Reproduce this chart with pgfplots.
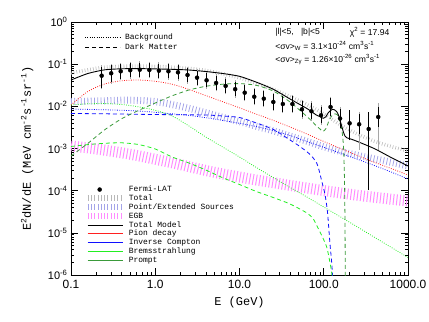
\documentclass[border=0pt]{standalone}
\usepackage{fontspec}
\setmainfont{Liberation Sans}
\newfontfamily\monof{Liberation Mono}
\usepackage{pgfplots}
\pgfplotsset{compat=1.18}
\usepackage{pgfplotstable}

\definecolor{pgray}{HTML}{B8B8B8}
\definecolor{pslate}{HTML}{A4A4E8}
\definecolor{pmag}{HTML}{FF8CFF}
\definecolor{pred}{HTML}{FF2020}
\definecolor{pblue}{HTML}{1010FF}
\definecolor{pgreen}{HTML}{22EE22}
\definecolor{pdkgreen}{HTML}{3A9A3A}

% background components: total band, pion, IC, point/extended band, EGB band, bremsstrahlung
\pgfplotstableread{
E       total    pion      ic        ps        egb        brems
0.1     0.0617   0.01076   0.00865   0.01302   0.001147   0.01076
0.1585  0.0735   0.0225    0.00846   0.01324   0.001034   0.01149
0.2512  0.0847   0.0339    0.00828   0.01353   0.000912   0.01161
0.3981  0.0890   0.0403    0.00806   0.01398   0.000791   0.01106
0.631   0.0900   0.0421    0.00775   0.01383   0.000672   0.00975
1       0.0886   0.0393    0.00722   0.01296   0.000555   0.00806
1.585   0.0847   0.0335    0.00665   0.01106   0.000458   0.0059
2.512   0.0794   0.0251    0.0061    0.00898   0.000372   0.00342
3.981   0.0712   0.01798   0.00538   0.00707   0.000301   0.001875
6.31    0.0591   0.01288   0.00464   0.0055    0.000249   0.001086
10      0.0475   0.00923   0.00396   0.00435   0.000211   0.000629
15.85   0.0350   0.00651   0.00331   0.00336   0.000179   0.000355
25.12   0.0252   0.00467   0.00266   0.00262   0.000155   0.000205
39.81   0.0171   0.00324   0.00203   0.00198   0.000133   0.000119
63.1    0.01106  0.00221   0.001466  0.001483  0.0001157  0.0000708
100     0.00665  0.001466  0.001068  0.001098  0.0001005  0.000041
158.5   0.00361  0.001     0.00077   0.000849  0.0000881  0.0000238
251.2   0.00221  0.000683  0.000555  0.00069   0.0000777  0.0000138
398.1   0.00149  0.000471  0.000396  0.00057   0.0000697  0.00000788
631     0.001116 0.000336  0.000277  0.000471  0.0000628  0.00000454
1000    0.000873 0.000235  0.000189  0.000385  0.0000569  0.0000026
}\bgtable

\begin{document}
\begin{tikzpicture}
\begin{axis}[
  scale only axis, width=337bp, height=253bp,
  xmode=log, ymode=log, xmin=0.1, xmax=1000, ymin=1e-6, ymax=1,
  xtick={0.1,1,10,100,1000}, xticklabels={0.1,1.0,10.0,100.0,1000.0},
  ytick={1e-6,1e-5,1e-4,1e-3,1e-2,1e-1,1},
  yticklabels={10\textsuperscript{-6},10\textsuperscript{-5},10\textsuperscript{-4},10\textsuperscript{-3},10\textsuperscript{-2},10\textsuperscript{-1},10\textsuperscript{0}},
  tick align=inside, major tick length=7bp, minor tick length=3.5bp,
  every tick/.style={black, line width=0.6bp},
  axis line style={line width=0.8bp},
  xticklabel style={font=\fontsize{12}{12}\selectfont, yshift=-2bp},
  yticklabel style={font=\fontsize{11}{11}\selectfont},
  xlabel={E (GeV)},
  ylabel={E\textsuperscript{2}dN/dE (MeV cm\textsuperscript{-2}s\textsuperscript{-1}sr\textsuperscript{-1})},
  label style={font=\monof\fontsize{12}{12}\selectfont},
  xlabel style={at={(axis description cs:0.5,-0.11)}, anchor=center},
  ylabel style={at={(axis description cs:-0.13,0.5)}, anchor=center},
  legend cell align=left,
  legend style={draw=none, fill=none, at={(0.04,0.356)}, anchor=north west,
    font=\monof\fontsize{8}{8}\selectfont, inner sep=0pt, row sep=0pt, column sep=2.5bp,
    nodes={inner sep=0.6bp, text height=6bp, text depth=1.65bp}},
]
% legend entries
\addlegendimage{legend image code/.code={\fill[black] (12bp,0bp) circle (2bp);}}
\addlegendentry{Fermi-LAT}
\addlegendimage{legend image code/.code={\draw[pgray, line width=6bp, dash pattern=on 0.7bp off 2.6bp] (0bp,0bp) -- (35bp,0bp);}}
\addlegendentry{Total}
\addlegendimage{legend image code/.code={\draw[pslate, line width=6bp, dash pattern=on 0.7bp off 2.6bp] (0bp,0bp) -- (35bp,0bp);}}
\addlegendentry{Point/Extended Sources}
\addlegendimage{legend image code/.code={\draw[pmag, line width=6bp, dash pattern=on 1bp off 2.3bp] (0bp,0bp) -- (35bp,0bp);}}
\addlegendentry{EGB}
\addlegendimage{legend image code/.code={\draw[black, line width=0.8bp] (0bp,0bp) -- (35bp,0bp);}}
\addlegendentry{Total Model}
\addlegendimage{legend image code/.code={\draw[pred, line width=0.8bp] (0bp,0bp) -- (35bp,0bp);}}
\addlegendentry{Pion decay}
\addlegendimage{legend image code/.code={\draw[pblue, line width=0.8bp] (0bp,0bp) -- (35bp,0bp);}}
\addlegendentry{Inverse Compton}
\addlegendimage{legend image code/.code={\draw[pgreen, line width=0.8bp] (0bp,0bp) -- (35bp,0bp);}}
\addlegendentry{Bremsstrahlung}
\addlegendimage{legend image code/.code={\draw[pdkgreen, line width=0.8bp] (0bp,0bp) -- (35bp,0bp);}}
\addlegendentry{Prompt}

% hatched bands
\addplot[pmag, line width=11bp, dash pattern=on 1bp off 2.3bp, smooth] table[x=E, y=egb] {\bgtable};
\addplot[pslate, line width=7bp, dash pattern=on 0.8bp off 2.5bp, smooth] table[x=E, y=ps] {\bgtable};
\addplot[pgray, line width=3.5bp, dash pattern=on 0.6bp off 2.2bp, smooth] table[x=E, y=total] {\bgtable};

% background (dotted)
\addplot[pred, line width=0.8bp, dash pattern=on 0.8bp off 1.5bp, smooth] table[x=E, y=pion] {\bgtable};
\addplot[pblue, line width=0.8bp, dash pattern=on 0.8bp off 1.5bp, smooth] table[x=E, y=ic] {\bgtable};
\addplot[pgreen, line width=0.8bp, dash pattern=on 0.8bp off 1.5bp, smooth] table[x=E, y=brems] {\bgtable};

% dark matter (dashed): inverse Compton
\addplot[pblue, line width=0.8bp, dash pattern=on 4bp off 3bp, smooth, tension=0.4] coordinates {
(0.1,0.00676)(0.2512,0.00665)(0.631,0.00647)(1.585,0.00633)(3.981,0.00623)(6.31,0.0059)
(10,0.00544)(15.85,0.00403)(25.12,0.00285)(39.81,0.00159)(50.1,0.001179)(63.1,0.00084)
(72.5,0.000646)(82.5,0.000453)(87.8,0.000309)(94.6,0.00017)(103.5,0.0000812)(110.8,0.0000312)
(118.6,0.00000544)(123.6,0.00000227)(127.0,0.000001)(129.8,3.36e-7)};
% dark matter: bremsstrahlung
\addplot[pgreen, line width=0.8bp, dash pattern=on 4bp off 3bp, smooth, tension=0.4] coordinates {
(0.1,0.001116)(0.1585,0.001238)(0.2512,0.001329)(0.3981,0.001366)(0.631,0.001245)(1,0.000974)
(1.585,0.000629)(2.512,0.000453)(3.981,0.000309)(6.31,0.000203)(10,0.00014)(15.85,0.0000956)
(25.12,0.0000689)(39.81,0.0000483)(63.1,0.0000296)(74.5,0.0000219)(83.2,0.0000145)
(95.3,0.00000842)(108.4,0.00000462)(117.0,0.00000227)(124.3,0.00000112)(128.8,4.4e-7)};
% dark matter: prompt
\addplot[pdkgreen, line width=0.8bp, dash pattern=on 4bp off 3bp, smooth, tension=0.4] coordinates {
(0.1,0.000664)(0.1585,0.001322)(0.2512,0.00278)(0.3981,0.00506)(0.631,0.00797)(1,0.012)
(1.585,0.01778)(2.512,0.0244)(3.981,0.0299)(6.31,0.0335)(10,0.0346)(15.85,0.0315)
(25.12,0.0231)(39.81,0.01267)(63.1,0.00574)(71.9,0.00449)(80.9,0.00351)(90.2,0.0029)
(97.9,0.00253)(106.3,0.00298)(113.9,0.00425)(121.9,0.00559)(128.8,0.0064)(136.0,0.00665)
(143.7,0.0064)(151.7,0.00529)(160.2,0.00361)(167.0,0.00209)(172.5,0.000922)(176.3,0.000179)
(178.7,0.0000202)(180.2,0.000001)(181.2,2.56e-7)};

% total model
\addplot[black, line width=0.9bp, smooth, tension=0.4] coordinates {
(0.1,0.0421)(0.1585,0.0601)(0.2512,0.0735)(0.3981,0.0777)(0.631,0.0785)(1,0.0772)
(1.585,0.0755)(2.512,0.0727)(3.981,0.0670)(6.31,0.0601)(10,0.0516)(15.85,0.0374)
(25.12,0.0255)(39.81,0.01493)(63.1,0.00889)(71.9,0.00746)(80.9,0.0063)(90.2,0.00568)
(98.8,0.00521)(106.3,0.00574)(113.2,0.00707)(126.3,0.00851)(134.2,0.00828)(142.5,0.00746)
(149.6,0.00623)(155.9,0.00474)(163.3,0.00342)(170.6,0.0025)(178.6,0.00198)(187.3,0.0018)
(214.7,0.00165)(251.2,0.001466)(398.1,0.000995)(631,0.000612)(1000,0.000385)};

% Fermi-LAT data: systematic (gray) and statistical (black) error bars, relative
\addplot[only marks, mark=*, mark size=0.01bp, gray!70,
  error bars/.cd, y dir=both, y explicit relative,
  error bar style={line width=0.8bp, gray!70},
  error mark options={gray!70, mark size=3bp, line width=0.8bp}] coordinates {
(0.231,0.0533) += (0,0.482) -= (0,0.445)
(0.300,0.0607) += (0,0.426) -= (0,0.325)
(0.389,0.0677) += (0,0.350) -= (0,0.275)
(0.505,0.0716) += (0,0.350) -= (0,0.259)
(0.656,0.0739) += (0,0.350) -= (0,0.259)
(0.851,0.0727) += (0,0.350) -= (0,0.259)
(1.105,0.0700) += (0,0.350) -= (0,0.259)
(1.434,0.0677) += (0,0.350) -= (0,0.259)
(1.861,0.0641) += (0,0.350) -= (0,0.259)
(2.415,0.0553) += (0,0.350) -= (0,0.259)
(3.133,0.0478) += (0,0.350) -= (0,0.259)
(4.067,0.0414) += (0,0.350) -= (0,0.259)
(5.277,0.0358) += (0,0.350) -= (0,0.259)
(6.848,0.0304) += (0,0.350) -= (0,0.259)
(8.888,0.0255) += (0,0.365) -= (0,0.270)
(11.53,0.0211) += (0,0.365) -= (0,0.270)
(14.97,0.0169) += (0,0.365) -= (0,0.270)
(19.43,0.0152) += (0,0.365) -= (0,0.270)
(25.21,0.01267) += (0,0.388) -= (0,0.280)
(32.72,0.01136) += (0,0.388) -= (0,0.280)
(42.46,0.01136) += (0,0.388) -= (0,0.280)
(55.10,0.00851) += (0,0.410) -= (0,0.291)
(71.50,0.00763) += (0,0.450) -= (0,0.310)
(92.81,0.00613) += (0,0.450) -= (0,0.310)
(120.4,0.00964) += (0,0.506) -= (0,0.336)
(156.3,0.00515) += (0,0.548) -= (0,0.354)
(202.8,0.00396) += (0,0.755) -= (0,0.527)
(263.3,0.00375) += (0,0.662) -= (0,0.710)
(341.6,0.00290) += (0,1.148) -= (0,0.958)
(443.4,0.00559) += (0,0.823) -= (0,0.806)};
\addplot[only marks, mark=*, mark size=2bp, black,
  error bars/.cd, y dir=both, y explicit relative,
  error bar style={line width=0.8bp, black},
  error mark options={black, mark size=3bp, line width=0.8bp}] coordinates {
(0.231,0.0533) += (0,0.365) -= (0,0.398)
(0.300,0.0607) += (0,0.314) -= (0,0.267)
(0.389,0.0677) += (0,0.244) -= (0,0.214)
(0.505,0.0716) += (0,0.244) -= (0,0.196)
(0.656,0.0739) += (0,0.244) -= (0,0.196)
(0.851,0.0727) += (0,0.244) -= (0,0.196)
(1.105,0.0700) += (0,0.244) -= (0,0.196)
(1.434,0.0677) += (0,0.244) -= (0,0.196)
(1.861,0.0641) += (0,0.244) -= (0,0.196)
(2.415,0.0553) += (0,0.244) -= (0,0.196)
(3.133,0.0478) += (0,0.244) -= (0,0.196)
(4.067,0.0414) += (0,0.244) -= (0,0.196)
(5.277,0.0358) += (0,0.244) -= (0,0.196)
(6.848,0.0304) += (0,0.244) -= (0,0.196)
(8.888,0.0255) += (0,0.260) -= (0,0.207)
(11.53,0.0211) += (0,0.260) -= (0,0.207)
(14.97,0.0169) += (0,0.260) -= (0,0.207)
(19.43,0.0152) += (0,0.260) -= (0,0.207)
(25.21,0.01267) += (0,0.279) -= (0,0.218)
(32.72,0.01136) += (0,0.279) -= (0,0.218)
(42.46,0.01136) += (0,0.279) -= (0,0.218)
(55.10,0.00851) += (0,0.300) -= (0,0.227)
(71.50,0.00763) += (0,0.336) -= (0,0.247)
(92.81,0.00613) += (0,0.336) -= (0,0.247)
(120.4,0.00964) += (0,0.388) -= (0,0.280)
(156.3,0.00515) += (0,0.426) -= (0,0.299)
(202.8,0.00396) += (0,0.755) -= (0,0.527)
(263.3,0.00375) += (0,0.466) -= (0,0.318)
(341.6,0.00290) += (0,1.148) -= (0,0.958)
(443.4,0.00559) += (0,0.466) -= (0,0.318)};

% annotation text
\node[anchor=west, font=\fontsize{8.6}{8.6}\selectfont] at (axis description cs:0.596,0.960) {|l|<5,\ \ \ |b|<5};
\node[anchor=east, font=\fontsize{8.6}{8.6}\selectfont] at (axis description cs:0.955,0.960) {χ\textsuperscript{2} = 17.94};
\node[anchor=west, font=\fontsize{8.6}{8.6}\selectfont] at (axis description cs:0.596,0.905) {<σv>\textsubscript{W} = 3.1×10\textsuperscript{-24} cm\textsuperscript{3}s\textsuperscript{-1}};
\node[anchor=west, font=\fontsize{8.6}{8.6}\selectfont] at (axis description cs:0.596,0.850) {<σv>\textsubscript{Zγ} = 1.26×10\textsuperscript{-26} cm\textsuperscript{3}s\textsuperscript{-1}};
\end{axis}

% second, empty axis only for the line-style legend at the top
\begin{axis}[
  scale only axis, width=337bp, height=253bp, hide axis,
  xmin=0, xmax=1, ymin=0, ymax=1,
  legend cell align=left,
  legend style={draw=none, fill=none, at={(0.04,0.961)}, anchor=north west,
    font=\monof\fontsize{8}{8}\selectfont, inner sep=0pt, row sep=0pt, column sep=4bp,
    nodes={inner sep=0.6bp, text height=7bp, text depth=2.1bp}},
]
\addlegendimage{legend image code/.code={\draw[black, line width=0.8bp, dash pattern=on 0.8bp off 1.5bp] (0bp,0bp) -- (35bp,0bp);}}
\addlegendentry{Background}
\addlegendimage{legend image code/.code={\draw[black, line width=0.8bp, dash pattern=on 4bp off 3bp] (0bp,0bp) -- (35bp,0bp);}}
\addlegendentry{Dark Matter}
\end{axis}

\pgfresetboundingbox
\path[use as bounding box] ([shift={(-71bp,-47bp)}]current axis.south west) rectangle ([shift={(21bp,22bp)}]current axis.north east);
\end{tikzpicture}
\end{document}
